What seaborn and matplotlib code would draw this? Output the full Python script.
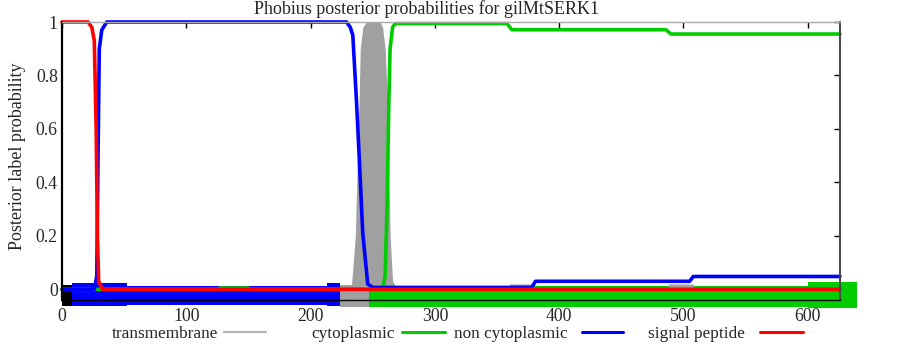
import matplotlib
matplotlib.use("Agg")
import matplotlib.pyplot as plt
from matplotlib.lines import Line2D
import seaborn as sns
import pandas as pd

# posterior curves (breakpoints of each line)
sp_x = [0, 21, 24, 26, 27.5, 28.5, 29.5, 32, 33, 626]
sp_y = [1, 1, 0.98, 0.93, 0.6, 0.2, 0.03, 0.005, 0, 0]

noncyt_x = [0, 26, 28, 29, 30, 32, 36, 229, 232, 234, 237, 239.5, 242, 246, 250,
            378, 381, 505, 508, 626]
noncyt_y = [0, 0, 0.05, 0.5, 0.9, 0.97, 1, 1, 0.98, 0.95, 0.70, 0.46, 0.21, 0.02, 0.007,
            0.007, 0.03, 0.03, 0.048, 0.048]

cyt_x = [0, 126, 127, 150, 151, 258, 260, 261.5, 263, 264, 266, 268, 358, 362, 486, 490, 626]
cyt_y = [0, 0, 0.005, 0.005, 0, 0, 0.05, 0.3, 0.7, 0.9, 0.98, 0.994, 0.994, 0.971, 0.971,
         0.955, 0.955]

tm_x = [0, 228, 233, 236, 239, 240, 242, 245, 256, 258, 260, 262, 264, 266, 270,
        359, 360, 378, 379, 487, 488, 508, 509, 626]
tm_y = [0, 0, 0.02, 0.2, 0.7, 0.9, 0.98, 1, 1, 0.98, 0.9, 0.7, 0.2, 0.03, 0,
        0, 0.02, 0.02, 0, 0, 0.02, 0.02, 0, 0]

# predicted topology bands under the axis
band_start = [0, 8, 52, 213, 224, 247, 600]
band_end = [8, 52, 213, 224, 247, 600, 640]
band_top = [0.015, 0.022, 0.013, 0.022, 0.016, 0.012, 0.026]
band_bottom = [-0.062, -0.064, -0.058, -0.064, -0.065, -0.065, -0.069]
band_color = ["black", "#0000ff", "#0000ff", "#0000ff", "#a0a0a0", "#00cc00", "#00cc00"]

labels = ["transmembrane", "cytoplasmic", "non cytoplasmic", "signal peptide"]
colors = {"transmembrane": "#b4b4b4", "cytoplasmic": "#00cc00",
          "non cytoplasmic": "#0000ff", "signal peptide": "#ff0000"}

df = pd.concat([
    pd.DataFrame({"pos": cyt_x, "prob": cyt_y, "label": "cytoplasmic"}),
    pd.DataFrame({"pos": noncyt_x, "prob": noncyt_y, "label": "non cytoplasmic"}),
    pd.DataFrame({"pos": sp_x, "prob": sp_y, "label": "signal peptide"}),
], ignore_index=True)

sns.set_style("white")
plt.rcParams["font.family"] = ["Liberation Serif", "DejaVu Serif"]

W, H = 903, 344
fig = plt.figure(figsize=(W / 100, H / 100), dpi=100)
ax = fig.add_axes([62 / W, 1 - 300 / H, (840 - 62) / W, (300 - 22) / H])

# bands
for s, e, t, b, c in zip(band_start, band_end, band_top, band_bottom, band_color):
    ax.fill_between([s, e], [b, b], [t, t], color=c, lw=0, clip_on=False, zorder=1)

# transmembrane as a grey filled curve
ax.fill_between(tm_x, 0, tm_y, color="#a0a0a0", lw=0, zorder=1.5)

sns.lineplot(data=df, x="pos", y="prob", hue="label", palette=colors,
             estimator=None, sort=False, lw=2.6, legend=False, ax=ax, zorder=2)
for ln in ax.lines:
    ln.set_clip_on(False)

ax.set_xlim(0, 626)
ax.set_ylim(-0.04, 1.0)
ax.set_xticks([0, 100, 200, 300, 400, 500, 600])
ax.set_yticks([0, 0.2, 0.4, 0.6, 0.8, 1])
ax.set_yticklabels(["0", "0.2", "0.4", "0.6", "0.8", "1"])
ax.tick_params(axis="both", direction="in", length=4, width=1, color="black",
               top=True, right=True, labelsize=12.8)
ax.tick_params(axis="x", pad=6)
ax.tick_params(axis="y", pad=3)
ax.set_xlabel("")
ax.set_ylabel("Posterior label probability", fontsize=13)
ax.yaxis.set_label_coords(-0.046, 0.516)

ax.spines["left"].set_color("black")
ax.spines["left"].set_linewidth(1.6)
ax.spines["bottom"].set_color("black")
ax.spines["bottom"].set_linewidth(1)
ax.spines["top"].set_color("#aaaaaa")
ax.spines["top"].set_linewidth(1)
ax.spines["right"].set_color("#444444")
ax.spines["right"].set_linewidth(1.4)
for sp in ax.spines.values():
    sp.set_zorder(3)

ax.text((426.5 - 62) / 778, 1.027, "Phobius posterior probabilities for gilMtSERK1",
        transform=ax.transAxes, ha="center", va="baseline", fontsize=13)

# legend below the plot: text followed by a short line
text_end = [218, 395, 568, 745]
line_start = [224, 402, 582, 760]
line_end = [266, 445, 623, 803]
for lab, te, ls, le in zip(labels, text_end, line_start, line_end):
    fig.text(te / W, 1 - 337.5 / H, lab, ha="right", va="baseline", fontsize=12.4)
    lw = 1.6 if lab == "transmembrane" else 2.2
    fig.add_artist(Line2D([ls / W, le / W], [1 - 332 / H, 1 - 332 / H],
                          color=colors[lab], lw=lw, transform=fig.transFigure))

fig.savefig("out.png", dpi=100)
